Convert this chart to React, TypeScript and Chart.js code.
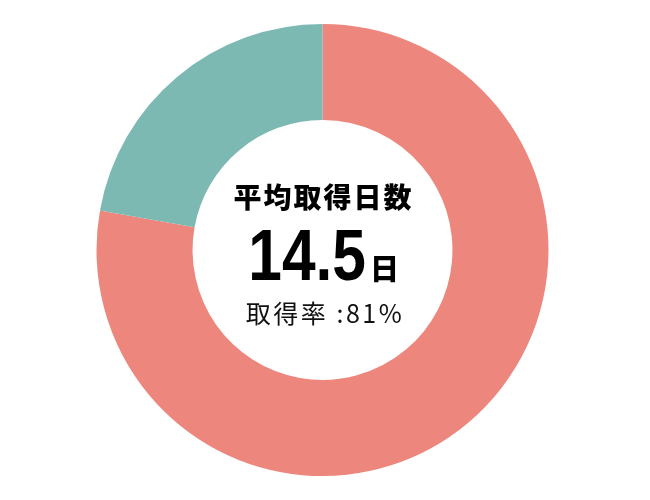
import React, { useEffect, useRef } from "react";
import { Chart, registerables } from "chart.js";

Chart.register(...registerables);

const categories = ["取得", "未取得"];
const values = [77.8, 22.2];
const colors = ["#ED867C", "#7DB9B3"];
const centerTitle = "平均取得日数";
const centerValue = "14.5";
const centerUnit = "日";
const centerRate = "取得率 :81%";

export default function App() {
  const ref = useRef<HTMLCanvasElement | null>(null);
  useEffect(() => {
    document.body.style.margin = "0";
    const chart = new Chart(ref.current!, {
      type: "doughnut",
      data: {
        labels: categories,
        datasets: [
          {
            data: values,
            backgroundColor: colors,
            borderWidth: 0,
          },
        ],
      },
      options: {
        responsive: false,
        animation: false,
        cutout: "57.5%",
        layout: { padding: { top: 24, bottom: 24, left: 0, right: 5 } },
        plugins: { legend: { display: false }, tooltip: { enabled: false } },
      },
    });
    return () => chart.destroy();
  }, []);

  const cjk = '"Noto Sans CJK JP", "Noto Sans", sans-serif';
  return (
    <div style={{ position: "relative", width: 650, height: 500, background: "#fff" }}>
      <canvas ref={ref} width={650} height={500} style={{ display: "block" }} />
      <div
        style={{
          position: "absolute",
          left: 0,
          width: 647,
          top: 176,
          textAlign: "center",
          fontFamily: cjk,
          fontWeight: 900,
          fontSize: 28,
          lineHeight: "40px",
          letterSpacing: 2,
          color: "#000",
        }}
      >
        {centerTitle}
      </div>
      <div
        style={{
          position: "absolute",
          left: 0,
          width: 366,
          top: 215,
          height: 80,
          textAlign: "right",
          color: "#000",
          lineHeight: "80px",
          whiteSpace: "nowrap",
          fontFamily: '"Liberation Sans", Arial, sans-serif',
          fontWeight: 700,
          fontSize: 72,
          transform: "scaleX(0.84)",
          transformOrigin: "366px 0",
        }}
      >
        {centerValue}
      </div>
      <div
        style={{
          position: "absolute",
          left: 370,
          top: 247,
          height: 40,
          lineHeight: "40px",
          fontFamily: cjk,
          fontWeight: 900,
          fontSize: 29,
          color: "#000",
          whiteSpace: "nowrap",
        }}
      >
        {centerUnit}
      </div>
      <div
        style={{
          position: "absolute",
          left: 0,
          width: 650,
          top: 294,
          textAlign: "center",
          fontFamily: cjk,
          fontWeight: 400,
          fontSize: 25,
          lineHeight: "36px",
          letterSpacing: 2.5,
          color: "#111",
          whiteSpace: "nowrap",
        }}
      >
        {centerRate}
      </div>
    </div>
  );
}
